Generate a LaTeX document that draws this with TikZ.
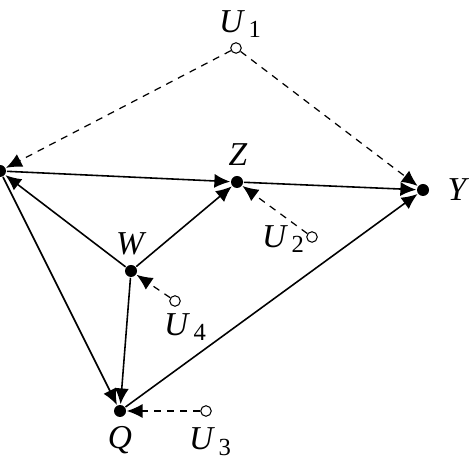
\documentclass[tikz,border=0pt]{standalone}
\usepackage{fontspec}
\setmainfont{Liberation Serif}[ItalicFont={Liberation Serif Italic}]
\newfontfamily\lblfont{Liberation Serif Italic}
\usetikzlibrary{arrows.meta, positioning}
\tikzstyle{obs} = [circle, fill=black, inner sep=0pt, minimum size=2.4mm]
\tikzstyle{lat} = [circle, draw, fill=white, line width=0.6pt, inner sep=0pt, minimum size=2.1mm]
\tikzstyle{lbl} = [inner sep=1pt, font=\fontsize{19}{21}\lblfont]
\tikzstyle{err} = [->, dashed, dash pattern=on 4pt off 3.5pt, line width=0.7pt]
\newfontfamily\subfont{Liberation Serif}
\newcommand{\uvar}[1]{U\,{\subfont\fontsize{14}{16}\selectfont\raisebox{-0.5ex}{#1}}}

\begin{document}
\begin{tikzpicture}[>={Latex[length=9pt,width=8pt]}, line width=0.9pt]
    \useasboundingbox (0,0) rectangle (9.48,9.48);
    % observed variables
    \node[obs] (x) at (0,6.06) {};
    \node[obs] (z) at (4.74,5.84) {};
    \node[obs] (y) at (8.46,5.68) {};
    \node[obs] (w) at (2.62,4.06) {};
    \node[obs] (q) at (2.4,1.26) {};
    % latent variables
    \node[lat] (u1) at (4.72,8.52) {};
    \node[lat] (u2) at (6.24,4.74) {};
    \node[lat] (u3) at (4.12,1.26) {};
    \node[lat] (u4) at (3.5,3.46) {};
    % labels
    \node[lbl] (zl) at (4.76,6.38) {Z};
    \node[lbl] (yl) at (9.14,5.68) {Y};
    \node[lbl] (wl) at (2.6,4.6) {W};
    \node[lbl] (ql) at (2.4,0.68) {Q};
    \node[lbl] (u1l) at (4.8,9.0) {\uvar{1}};
    \node[lbl] (u2l) at (5.66,4.7) {\uvar{2}};
    \node[lbl] (u3l) at (4.2,0.64) {\uvar{3}};
    \node[lbl] (u4l) at (3.7,2.94) {\uvar{4}};
    % edges
    \draw[->] (x) -- (z);
    \draw[->] (z) -- (y);
    \draw[->] (x) -- (q);
    \draw[->] (w) -- (x);
    \draw[->] (w) -- (z);
    \draw[->] (w) -- (q);
    \draw[->] (q) -- (y);
    \draw[err] (u1) -- (x);
    \draw[err] (u1) -- (y);
    \draw[err] (u2) -- (z);
    \draw[err] (u3) -- (q);
    \draw[err] (u4) -- (w);
\end{tikzpicture}
\end{document}
